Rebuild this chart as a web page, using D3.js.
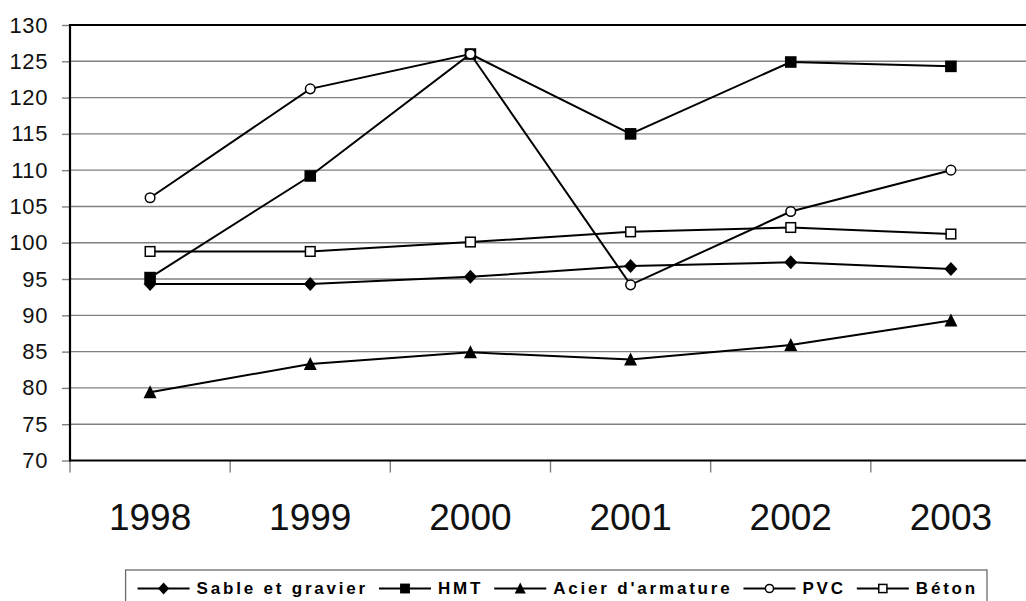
<!DOCTYPE html>
<html><head><meta charset="utf-8">
<script src="https://cdn.jsdelivr.net/npm/d3@7"></script>
<style>body{margin:0;background:#fff} svg{display:block}</style>
</head><body><svg id="c" width="1026" height="601"></svg>
<script>
const years = ["1998","1999","2000","2001","2002","2003"];
const sable = [94.3, 94.3, 95.3, 96.8, 97.3, 96.4];
const hmt = [95.2, 109.2, 126.0, 115.0, 124.9, 124.3];
const acier = [79.4, 83.3, 84.9, 83.9, 85.9, 89.3];
const pvc = [106.2, 121.2, 126.0, 94.2, 104.3, 110.0];
const beton = [98.8, 98.8, 100.1, 101.5, 102.1, 101.2];
const seriesNames = ["Sable et gravier", "HMT", "Acier d'armature", "PVC", "Béton"];
const yTicks = [70, 75, 80, 85, 90, 95, 100, 105, 110, 115, 120, 125, 130];

const series = [
  {name: seriesNames[0], values: sable, marker: "diamond"},
  {name: seriesNames[1], values: hmt, marker: "fsquare"},
  {name: seriesNames[2], values: acier, marker: "triangle"},
  {name: seriesNames[3], values: pvc, marker: "circle"},
  {name: seriesNames[4], values: beton, marker: "osquare"}
];

const FONT = "'Liberation Sans', Arial, sans-serif";
const svg = d3.select("#c");
svg.append("rect").attr("width", 1026).attr("height", 601).attr("fill", "#fff");

const pLeft = 70, pRight = 1031, pTop = 25, pBottom = 460.5;
const x = d3.scaleBand().domain(years).range([pLeft, pRight]).paddingInner(0).paddingOuter(0);
const y = d3.scaleLinear().domain([70, 130]).range([pBottom, pTop]);
const cx = d => x(d) + x.bandwidth() / 2;

// gridlines
svg.append("g").selectAll("line").data(yTicks.filter(t => t > 70 && t < 130)).join("line")
  .attr("x1", pLeft).attr("x2", pRight).attr("y1", d => y(d)).attr("y2", d => y(d))
  .attr("stroke", "#808080").attr("stroke-width", 1.4);

// y axis with ticks
const yAxis = d3.axisLeft(y).tickValues(yTicks).tickSize(8).tickPadding(14).tickFormat(d3.format("d"));
const gy = svg.append("g").attr("transform", `translate(${pLeft},0)`).call(yAxis);
gy.select(".domain").remove();
gy.selectAll(".tick line").attr("stroke", "#808080").attr("stroke-width", 1.4);
gy.selectAll(".tick text").attr("font-family", FONT).attr("font-size", 22).attr("fill", "#111")
  .attr("letter-spacing", "0.6px").attr("x", -22);

// x axis ticks at band boundaries
const bounds = years.map(d => x(d)).concat([pRight]);
svg.append("g").selectAll("line").data(bounds).join("line")
  .attr("x1", d => d).attr("x2", d => d).attr("y1", pBottom).attr("y2", pBottom + 12)
  .attr("stroke", "#808080").attr("stroke-width", 1.4);

// year labels
const xAxis = d3.axisBottom(x).tickSize(0).tickPadding(0);
const gx = svg.append("g").attr("transform", `translate(0,${pBottom})`).call(xAxis);
gx.select(".domain").remove();
gx.selectAll(".tick text").attr("font-family", FONT).attr("font-size", 37).attr("fill", "#111")
  .attr("dy", null).attr("y", 69);

// frame
svg.append("line").attr("x1", pLeft).attr("x2", pRight).attr("y1", pTop).attr("y2", pTop)
  .attr("stroke", "#000").attr("stroke-width", 2);
svg.append("line").attr("x1", pLeft).attr("x2", pRight).attr("y1", pBottom).attr("y2", pBottom)
  .attr("stroke", "#000").attr("stroke-width", 2.2);
svg.append("line").attr("x1", pLeft).attr("x2", pLeft).attr("y1", pTop - 1).attr("y2", pBottom + 1)
  .attr("stroke", "#000").attr("stroke-width", 2.2);

function drawMarker(g, type, px, py, s) {
  s = s || 1;
  if (type === "diamond") {
    g.append("path").attr("d", `M${px},${py - 7 * s}L${px + 6.5 * s},${py}L${px},${py + 7 * s}L${px - 6.5 * s},${py}Z`).attr("fill", "#000");
  } else if (type === "fsquare") {
    g.append("rect").attr("x", px - 5.8 * s).attr("y", py - 5.8 * s).attr("width", 11.6 * s).attr("height", 11.6 * s).attr("fill", "#000");
  } else if (type === "triangle") {
    g.append("path").attr("d", `M${px},${py - 7 * s}L${px + 6.5 * s},${py + 6 * s}L${px - 6.5 * s},${py + 6 * s}Z`).attr("fill", "#000");
  } else if (type === "circle") {
    g.append("circle").attr("cx", px).attr("cy", py).attr("r", 4.8 * s).attr("fill", "#fff").attr("stroke", "#000").attr("stroke-width", 1.5);
  } else if (type === "osquare") {
    g.append("rect").attr("x", px - 4.8 * s).attr("y", py - 4.8 * s).attr("width", 9.6 * s).attr("height", 9.6 * s).attr("fill", "#fff").attr("stroke", "#000").attr("stroke-width", 1.5);
  }
}

const line = d3.line().x((d, i) => cx(years[i])).y(d => y(d));
series.forEach(s => {
  const g = svg.append("g");
  g.append("path").attr("d", line(s.values)).attr("fill", "none").attr("stroke", "#000").attr("stroke-width", 2);
  s.values.forEach((v, i) => drawMarker(g, s.marker, cx(years[i]), y(v), 1));
});

// legend
const lg = svg.append("g");
const legTop = 570, legRight = 987, lineLen = 52, gapText = 7, gapItem = 11, pad = 9;
const itemsG = lg.append("g");
let cur = 0;
const lineY = 588.5;
series.forEach(s => {
  const it = itemsG.append("g").attr("transform", `translate(${cur},0)`);
  it.append("line").attr("x1", 0).attr("x2", lineLen).attr("y1", lineY).attr("y2", lineY).attr("stroke", "#000").attr("stroke-width", 2);
  drawMarker(it, s.marker, lineLen / 2, lineY, 0.85);
  const t = it.append("text").attr("x", lineLen + gapText).attr("y", 594).text(s.name)
    .attr("font-family", FONT).attr("font-size", 17).attr("font-weight", "bold").attr("letter-spacing", "2.8px").attr("fill", "#000");
  const w = t.node().getComputedTextLength();
  cur += lineLen + gapText + w + gapItem;
});
cur -= gapItem;
const legLeft = legRight - pad - cur - 12;
itemsG.attr("transform", `translate(${legLeft + 12},0)`);
lg.insert("rect", ":first-child").attr("x", legLeft).attr("y", legTop).attr("width", legRight - legLeft).attr("height", 40)
  .attr("fill", "#fff").attr("stroke", "#6a6a6a").attr("stroke-width", 1.3);
</script>
</body></html>
